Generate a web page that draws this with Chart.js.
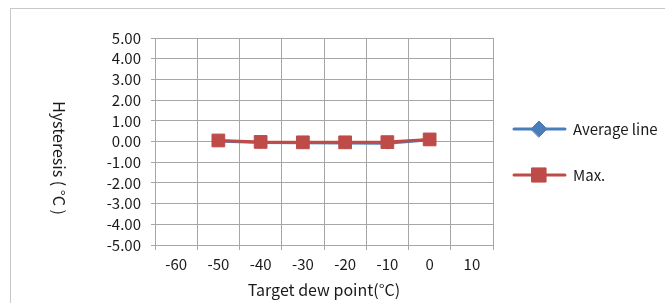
<!DOCTYPE html>
<html>
<head>
<meta charset="utf-8">
<script src="https://cdn.jsdelivr.net/npm/chart.js@4"></script>
<style>
  html, body { margin: 0; padding: 0; background: #fff; }
  canvas { display: block; }
</style>
</head>
<body>
<canvas id="lineChart" width="665" height="303"></canvas>
<script>
const dewPoints = [ '-60', '-50', '-40', '-30', '-20', '-10', '0', '10' ];
const averageLine = [ null, 0.03, -0.05, -0.06, -0.07, -0.08, 0.08, null ];
const maxLine = [ null, 0.05, -0.02, -0.04, -0.04, -0.03, 0.1, null ];
const yTitle = 'Hysteresis ( °C )';
const xTitle = 'Target dew point(°C)';

const FONT = '"Noto Sans CJK SC", "Noto Sans", sans-serif';
const gridColor = '#a6a6a6';

// frame, rotated y title and legend drawn by hand
const extras = {
	id: 'extras',
	beforeDraw(chart) {
		const c = chart.ctx;
		c.save();
		c.strokeStyle = '#c8c8c8';
		c.lineWidth = 1;
		c.strokeRect(10.5, 8.5, 800, 400);
		c.restore();
	},
	afterDraw(chart) {
		const c = chart.ctx;
		c.save();
		c.fillStyle = '#1a1a1a';
		c.font = '16px ' + FONT;
		c.textAlign = 'center';
		c.textBaseline = 'middle';
		c.translate(59, 158);
		c.rotate(Math.PI / 2);
		c.fillText(yTitle, 0, 0);
		c.restore();

		chart.data.datasets.forEach((ds, i) => {
			const y = 129 + i * 46;
			c.save();
			c.strokeStyle = ds.borderColor;
			c.lineWidth = 3;
			c.lineCap = 'round';
			c.beginPath();
			c.moveTo(514, y);
			c.lineTo(565, y);
			c.stroke();
			c.fillStyle = ds.backgroundColor;
			c.lineWidth = 1;
			Chart.helpers.drawPoint(c, { pointStyle: ds.pointStyle, radius: ds.legendRadius, borderWidth: 1 }, 539, y);
			c.fillStyle = '#1a1a1a';
			c.font = '15px ' + FONT;
			c.textAlign = 'left';
			c.textBaseline = 'middle';
			c.fillText(ds.label, 573, y);
			c.restore();
		});
	}
};

const ctx = document.getElementById('lineChart').getContext('2d');

const lineChart = new Chart(ctx, {
	type: 'line',
	data: {
		labels: dewPoints,
		datasets: [
			{
				label: 'Average line',
				data: averageLine,
				borderColor: '#4a7ebb',
				backgroundColor: '#4a7ebb',
				pointStyle: 'rectRot',
				pointRadius: 6,
				legendRadius: 8,
				pointBorderWidth: 1,
				borderWidth: 3,
				tension: 0,
				order: 1
			},
			{
				label: 'Max.',
				data: maxLine,
				borderColor: '#be4b48',
				backgroundColor: '#be4b48',
				pointStyle: 'rect',
				pointRadius: 9,
				legendRadius: 10,
				pointBorderWidth: 1,
				borderWidth: 3,
				tension: 0,
				order: 0
			}
		]
	},
	options: {
		responsive: false,
		animation: false,
		layout: {
			padding: { left: 10, right: 172, top: 38, bottom: 0 }
		},
		plugins: {
			legend: { display: false },
			tooltip: { enabled: false }
		},
		scales: {
			x: {
				type: 'category',
				offset: true,
				grid: { offset: true, color: gridColor, tickLength: 5 },
				border: { color: gridColor },
				ticks: { color: '#1a1a1a', font: { family: FONT, size: 15 }, padding: 5, maxRotation: 0, autoSkip: false },
				title: {
					display: true,
					text: xTitle,
					color: '#1a1a1a',
					font: { family: FONT, size: 16 },
					padding: { top: 0, bottom: 3 }
				},
				afterFit(scale) {
					scale.height = 58;
				}
			},
			y: {
				min: -5,
				max: 5,
				grid: { color: gridColor, tickLength: 4 },
				border: { color: gridColor },
				ticks: {
					stepSize: 1,
					autoSkip: false,
					color: '#1a1a1a',
					font: { family: FONT, size: 15 },
					padding: 10,
					callback: function(value) {
						return value.toFixed(2);
					}
				},
				afterFit(scale) {
					scale.width = 145;
				}
			}
		}
	},
	plugins: [ extras ]
});
</script>
</body>
</html>
